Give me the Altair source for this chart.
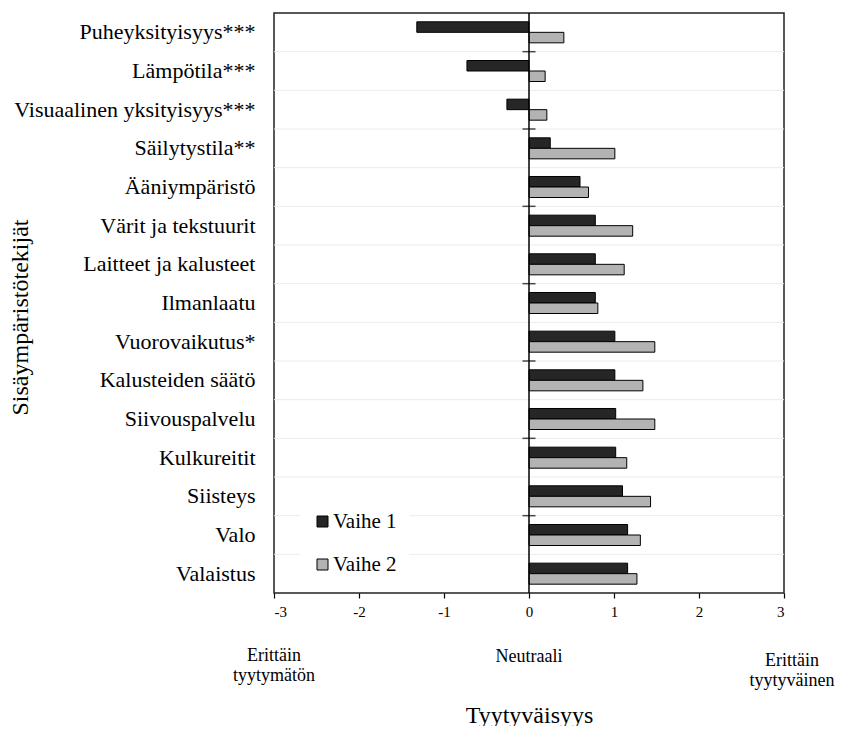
import altair as alt
import pandas as pd

categories = [
    "Puheyksityisyys***", "Lämpötila***", "Visuaalinen yksityisyys***",
    "Säilytystila**", "Ääniympäristö", "Värit ja tekstuurit",
    "Laitteet ja kalusteet", "Ilmanlaatu", "Vuorovaikutus*",
    "Kalusteiden säätö", "Siivouspalvelu", "Kulkureitit", "Siisteys",
    "Valo", "Valaistus",
]
vaihe1 = [-1.32, -0.73, -0.26, 0.25, 0.60, 0.78, 0.78, 0.78, 1.01, 1.01, 1.02, 1.02, 1.10, 1.16, 1.16]
vaihe2 = [0.41, 0.19, 0.21, 1.01, 0.70, 1.22, 1.12, 0.81, 1.48, 1.34, 1.48, 1.15, 1.43, 1.31, 1.27]
series = ["Vaihe 1", "Vaihe 2"]
series_colors = ["#262626", "#b3b3b3"]
x_ticks = [-3, -2, -1, 0, 1, 2, 3]
scale_labels = ["Erittäin\ntyytymätön", "Neutraali", "Erittäin\ntyytyväinen"]
scale_anchors = [-3, 0, 3]

FONT = "Liberation Serif"

rows = []
for c, a, b in zip(categories, vaihe1, vaihe2):
    rows.append({"cat": c, "series": series[0], "value": a})
    rows.append({"cat": c, "series": series[1], "value": b})
bars_df = pd.DataFrame(rows)
cat_df = pd.DataFrame({"cat": categories, "idx": list(range(len(categories))), "value": 0})

xscale = alt.Scale(domain=[-3, 3], nice=False, zero=False)
yscale = alt.Scale(domain=categories, paddingInner=0, paddingOuter=0)

x_axis = alt.Axis(
    values=x_ticks, grid=False, domain=False, ticks=True, tickSize=5,
    tickColor="black", tickWidth=1.2, labelFont=FONT, labelFontSize=15,
    labelColor="black", labelPadding=6, labelExpr="'' + datum.value",
    title="Tyytyväisyys",
    titleFont=FONT, titleFontSize=24, titleFontWeight="normal",
    titleColor="black", titleX=255, titleY=129, titleAlign="center",
    titleBaseline="alphabetic",
)
y_axis = alt.Axis(
    ticks=False, domain=False, grid=False, labelFont=FONT,
    labelFontSize=22, labelColor="black", labelPadding=19, labelLimit=500,
    title="Sisäympäristötekijät", titleFont=FONT, titleFontSize=24,
    titleFontWeight="normal", titleColor="black", titleAngle=270,
    titleX=-247, titleY=304, titleAlign="center", titleBaseline="alphabetic",
)


def xenc(field="value"):
    return alt.X(f"{field}:Q", scale=xscale, axis=x_axis, title="Tyytyväisyys")


def yenc(band=None):
    if band is None:
        return alt.Y("cat:N", sort=categories, scale=yscale, axis=y_axis,
                     title="Sisäympäristötekijät")
    return alt.Y("cat:N", sort=categories, scale=yscale, axis=y_axis,
                 title="Sisäympäristötekijät", bandPosition=band)


grid = alt.Chart(cat_df).transform_filter("datum.idx > 0").mark_rule(
    color="#ebebeb", strokeWidth=1
).encode(y=yenc(0))

bars = alt.Chart(bars_df).mark_bar(stroke="black", strokeWidth=1).encode(
    x=xenc(),
    y=yenc(),
    yOffset=alt.YOffset("series:N", sort=series,
                        scale=alt.Scale(domain=series, paddingOuter=0.84, paddingInner=0)),
    color=alt.Color(
        "series:N",
        scale=alt.Scale(domain=series, range=series_colors),
        legend=alt.Legend(
            title=None, orient="none", legendX=26, legendY=486,
            fillColor="white", padding=12, symbolType="square", symbolSize=121,
            symbolStrokeColor="black", symbolStrokeWidth=1, labelFont=FONT,
            labelFontSize=21, labelColor="black", labelOffset=0, rowPadding=21,
        ),
    ),
)

zero_line = alt.Chart(cat_df.head(1)).mark_rule(color="black", strokeWidth=1.5).encode(
    x=xenc()
)

zero_ticks = alt.Chart(cat_df).transform_filter("datum.idx % 2 == 1").mark_tick(
    orient="horizontal", size=13, thickness=1.5, color="black"
).encode(x=xenc(), y=yenc(0))

ann_y = [643, 644, 648]
ann_dx = [0, 0, 8]
annotations = []
for lab, anc, yy, ddx in zip(scale_labels, scale_anchors, ann_y, ann_dx):
    annotations.append(
        alt.Chart(pd.DataFrame({"label": [lab], "value": [anc]})).mark_text(
            font=FONT, fontSize=18, color="black", lineBreak="\n",
            lineHeight=20, align="center", baseline="middle", dx=ddx,
        ).encode(
            x=xenc(),
            y=alt.value(yy),
            text="label:N",
        )
    )

chart = alt.layer(grid, bars, zero_line, zero_ticks, *annotations).properties(
    width=510, height=580,
    padding={"left": 266, "top": 5, "right": 51, "bottom": 133},
    autosize="none",
).configure(font=FONT).configure_view(stroke="#222222", strokeWidth=1.5)

chart.save("out.html", embed_options={"renderer": "svg", "actions": False})
